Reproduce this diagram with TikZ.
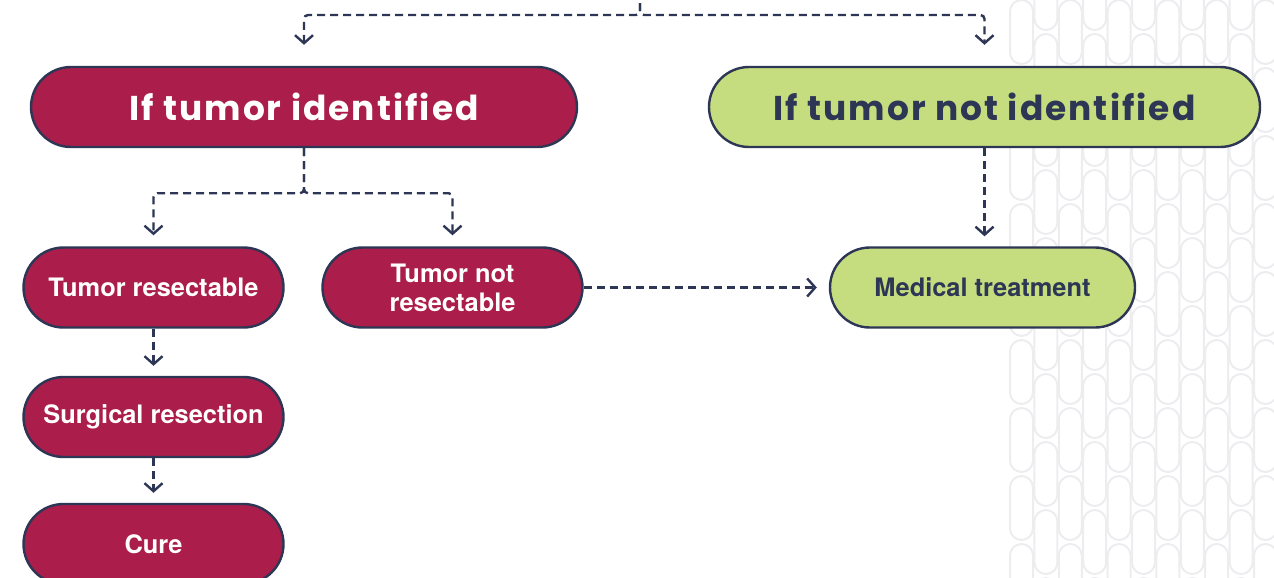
\documentclass[tikz,border=0pt]{standalone}
\usepackage{fontspec}
\setmainfont{TeX Gyre Heros}
\newfontfamily\headfont{Poppins}[LetterSpace=6]
\usetikzlibrary{arrows.meta,positioning,calc}
\definecolor{crimson}{HTML}{AB1D4A}
\definecolor{navy}{HTML}{2D3654}
\definecolor{lime}{HTML}{C5DD7E}
\definecolor{weave}{HTML}{EDEDF0}
\tikzset {>={Straight Barb[length=4pt,width=9pt]}}
\tikzset{
  pill/.style={draw=navy, line width=1.2pt, rectangle, rounded corners=20pt,
    minimum height=40pt, align=center, inner sep=0pt},
  redpill/.style={pill, fill=crimson, text=white},
  greenpill/.style={pill, fill=lime, text=navy},
  headpill/.style={minimum width=273pt, font=\headfont\bfseries\fontsize{17.2}{20}\selectfont},
  subpill/.style={minimum width=130pt, font=\bfseries\fontsize{12.7}{14.5}\selectfont},
  link/.style={->, navy, line width=1.2pt, dash pattern=on 4pt off 2.5pt, rounded corners=2pt}
}

\begin{document}
\begin{tikzpicture}[x=0.5pt,y=-0.5pt]

\useasboundingbox (0,0) rectangle (1274,578);
\clip (0,0) rectangle (1274,578);

% Background weave on the right
\foreach \i in {0,...,10} {
  \pgfmathsetmacro\cx{1010+24.4*\i}
  \pgfmathsetmacro\off{mod(\i,2)*34}
  \foreach \j in {-1,...,8}
    \draw [weave, line width=1pt, rounded corners=5.75pt] (\cx,\off+68*\j) rectangle ++(23,64);
}

% Decision nodes
\node[redpill,headpill] (tid) at (304,107) {If tumor identified};
\node[greenpill,headpill,minimum width=275.5pt] (tnid) at (984.5,107) {If tumor not identified};

% Outcome nodes
\node[redpill,subpill] (tr) at (153.5,287.5) {Tumor resectable};
\node[redpill,subpill] (tnr) at (452.5,287.5) {Tumor not\\resectable};
\node[greenpill,subpill,minimum width=152.5pt] (med) at (982.5,287.5) {Medical treatment};
\node[redpill,subpill] (surg) at (153.5,417) {Surgical resection};
\node[redpill,subpill] (cure) at (153.5,544) {Cure};

% Split from above
\coordinate (src) at (640,-10);
\draw [link] (src) -- ++(0,25) -| ([yshift=10.5pt]tid.north);
\draw [link] (src) -- ++(0,25) -| ([yshift=10.5pt]tnid.north);

% Split below tumor identified
\draw [link] (tid.south) -- ++(0,45) -| ([yshift=5.5pt]tr.north);
\draw [link] (tid.south) -- ++(0,45) -| ([yshift=5.5pt]tnr.north);

% Chains
\draw [link] (tr.south) -- ([yshift=5pt]surg.north);
\draw [link] (surg.south) -- ([yshift=5pt]cure.north);
\draw [link] (tnr.east) -- ([xshift=-6pt]med.west);
\draw [link] (tnid.south) -- ([yshift=5pt]tnid.south |- med.north);

\end{tikzpicture}
\end{document}
